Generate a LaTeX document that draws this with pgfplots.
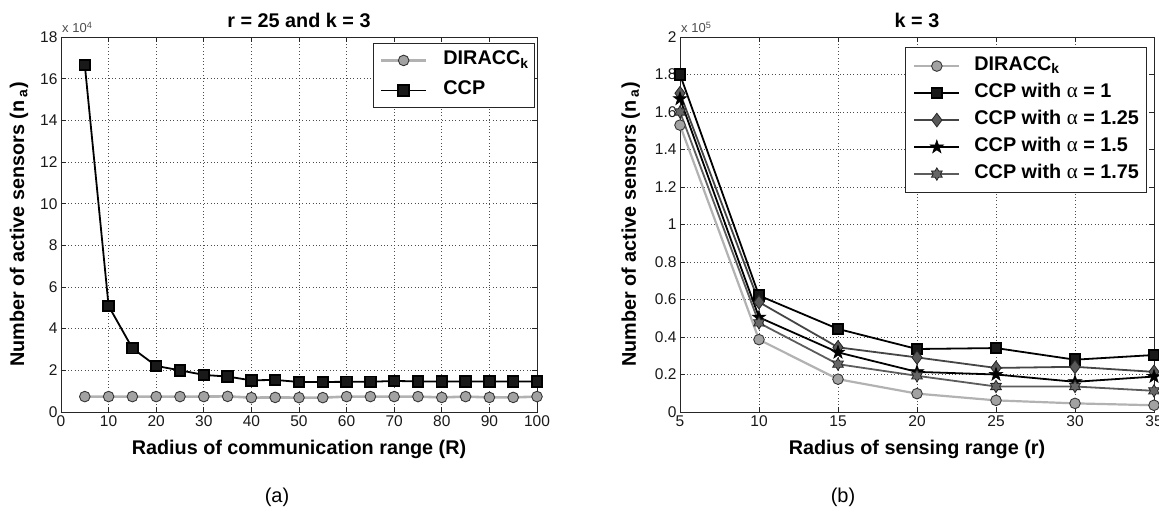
\documentclass[border=0pt]{standalone}
\usepackage{fontspec}
\setmainfont{Liberation Sans}
\newfontfamily\symf{Liberation Serif}
\usepackage{pgfplots}
\pgfplotsset{compat=1.18}
\usetikzlibrary{plotmarks}

\pgfdeclareplotmark{fstar}{%
  \pgfpathmoveto{\pgfpointpolar{90}{\pgfplotmarksize}}%
  \pgfpathlineto{\pgfpointpolar{126}{0.39*\pgfplotmarksize}}%
  \pgfpathlineto{\pgfpointpolar{162}{\pgfplotmarksize}}%
  \pgfpathlineto{\pgfpointpolar{198}{0.39*\pgfplotmarksize}}%
  \pgfpathlineto{\pgfpointpolar{234}{\pgfplotmarksize}}%
  \pgfpathlineto{\pgfpointpolar{270}{0.39*\pgfplotmarksize}}%
  \pgfpathlineto{\pgfpointpolar{306}{\pgfplotmarksize}}%
  \pgfpathlineto{\pgfpointpolar{342}{0.39*\pgfplotmarksize}}%
  \pgfpathlineto{\pgfpointpolar{18}{\pgfplotmarksize}}%
  \pgfpathlineto{\pgfpointpolar{54}{0.39*\pgfplotmarksize}}%
  \pgfpathclose
  \pgfusepathqfillstroke}
\pgfdeclareplotmark{hexa}{%
  \pgfpathmoveto{\pgfpointpolar{90}{\pgfplotmarksize}}%
  \pgfpathlineto{\pgfpointpolar{120}{0.58*\pgfplotmarksize}}%
  \pgfpathlineto{\pgfpointpolar{150}{\pgfplotmarksize}}%
  \pgfpathlineto{\pgfpointpolar{180}{0.58*\pgfplotmarksize}}%
  \pgfpathlineto{\pgfpointpolar{210}{\pgfplotmarksize}}%
  \pgfpathlineto{\pgfpointpolar{240}{0.58*\pgfplotmarksize}}%
  \pgfpathlineto{\pgfpointpolar{270}{\pgfplotmarksize}}%
  \pgfpathlineto{\pgfpointpolar{300}{0.58*\pgfplotmarksize}}%
  \pgfpathlineto{\pgfpointpolar{330}{\pgfplotmarksize}}%
  \pgfpathlineto{\pgfpointpolar{0}{0.58*\pgfplotmarksize}}%
  \pgfpathlineto{\pgfpointpolar{30}{\pgfplotmarksize}}%
  \pgfpathlineto{\pgfpointpolar{60}{0.58*\pgfplotmarksize}}%
  \pgfpathclose
  \pgfusepathqfillstroke}

\definecolor{dirline}{HTML}{B2B2B2}
\definecolor{dirfill}{HTML}{A2A2A2}
\definecolor{diredge}{HTML}{353535}
\definecolor{g125}{HTML}{454545}
\definecolor{g175}{HTML}{5C5C5C}

\newcommand\lbl{\fontsize{19.8}{22}\selectfont\bfseries}
\newcommand\alf{{\symf\mdseries\fontsize{21}{22}\selectfont α}}

\pgfplotsset{
  myaxis/.style={
    scale only axis, height=375pt,
    clip=false,
    axis line style={line width=0.9pt, black!85},
    tick align=inside, major tick length=5pt,
    tick style={line width=0.8pt, black!85},
    grid=major,
    grid style={line width=0.7pt, black!70, dash pattern=on 0.8pt off 2.6pt},
    tick label style={font=\fontsize{15.5}{16}\selectfont, black!90},
    /pgf/number format/assume math mode=true,
    title style={font=\lbl, at={(0.5,1)}, anchor=base, yshift=3pt, inner sep=0pt},
    label style={font=\lbl},
    legend cell align=left,
    legend image code/.code={\draw[mark repeat=2,mark phase=2,##1] plot coordinates {(0pt,0pt) (22.5pt,0pt) (45pt,0pt)};},
  }
}

\begin{document}
\begin{tikzpicture}
\useasboundingbox (0,0) rectangle (1159pt,520pt);

% ---------------- (a) ----------------
\begin{axis}[myaxis,
  at={(61pt,108pt)}, anchor=south west, width=476pt,
  xmin=0, xmax=100, ymin=0, ymax=18,
  xtick={0,10,...,100}, ytick={0,2,...,18},
  title={r = 25 and k = 3},
  xlabel={Radius of communication range (R)},
  ylabel={Number of active sensors (n\,\textsubscript{a})},
  xlabel style={at={(rel axis cs:0.5,-0.099)}, anchor=center},
  ylabel style={at={(rel axis cs:-0.088,0.5)}, anchor=center},
  legend style={at={(0.996,0.984)}, anchor=north east, font=\lbl,
    draw=black!85, line width=0.9pt, inner xsep=6pt, inner ysep=7.5pt,
    nodes={inner sep=0pt, text height=14pt, text depth=5pt},
    row sep=11pt, column sep=16pt},
]
\addplot[color=dirline, line width=2.6pt, mark=*, mark size=5.3pt,
  mark options={fill=dirfill, draw=diredge, line width=0.9pt}]
  coordinates {(5,0.74) (10,0.74) (15,0.74) (20,0.74) (25,0.74) (30,0.74)
  (35,0.75) (40,0.69) (45,0.70) (50,0.69) (55,0.69) (60,0.74) (65,0.74)
  (70,0.74) (75,0.74) (80,0.70) (85,0.74) (90,0.70) (95,0.70) (100,0.74)};
\addlegendentry{DIRACC\textsubscript{k}}
\addplot[color=black, line width=1.8pt, mark=square*, mark size=5.3pt,
  mark options={fill=black!90, draw=black}]
  coordinates {(5,16.66) (10,5.09) (15,3.06) (20,2.21) (25,2.0) (30,1.78)
  (35,1.70) (40,1.52) (45,1.54) (50,1.44) (55,1.44) (60,1.45) (65,1.45)
  (70,1.49) (75,1.47) (80,1.46) (85,1.46) (90,1.47) (95,1.46) (100,1.47)};
\addlegendentry{CCP}
\node[anchor=south west, inner sep=0pt, font=\fontsize{13}{13}\selectfont, black!70]
  at (rel axis cs:0,1) [xshift=1pt, yshift=4pt] {x 10\textsuperscript{4}};
\end{axis}

% ---------------- (b) ----------------
\begin{axis}[myaxis,
  at={(680pt,108pt)}, anchor=south west, width=474pt,
  xmin=5, xmax=35, ymin=0, ymax=2,
  xtick={5,10,...,35}, ytick={0,0.2,0.4,0.6,0.8,1,1.2,1.4,1.6,1.8,2},
  title={k = 3},
  xlabel={Radius of sensing range (r)},
  ylabel={Number of active sensors (n\,\textsubscript{a})},
  xlabel style={at={(rel axis cs:0.5,-0.099)}, anchor=center},
  ylabel style={at={(rel axis cs:-0.104,0.5)}, anchor=center},
  legend style={at={(0.985,0.973)}, anchor=north east, font=\lbl,
    draw=black!85, line width=0.9pt, inner xsep=7.5pt, inner ysep=9pt,
    nodes={inner sep=0pt, text height=14pt, text depth=5pt},
    row sep=8pt, column sep=14pt},
]
\addplot[color=dirline, line width=2.2pt, mark=*, mark size=5.3pt,
  mark options={fill=dirfill, draw=diredge, line width=0.9pt}]
  coordinates {(5,1.53) (10,0.386) (15,0.175) (20,0.098) (25,0.062) (30,0.046) (35,0.036)};
\addlegendentry{DIRACC\textsubscript{k}}
\addplot[color=black, line width=1.8pt, mark=square*, mark size=5.3pt,
  mark options={fill=black!90, draw=black}]
  coordinates {(5,1.80) (10,0.621) (15,0.443) (20,0.336) (25,0.341) (30,0.279) (35,0.304)};
\addlegendentry{CCP with \alf{} = 1}
\addplot[color=g125, line width=1.8pt, mark=diamond*, mark size=6.8pt,
  mark options={fill=black!65, draw=black!85, line width=0.8pt}]
  coordinates {(5,1.70) (10,0.586) (15,0.345) (20,0.291) (25,0.235) (30,0.241) (35,0.214)};
\addlegendentry{CCP with \alf{} = 1.25}
\addplot[color=black, line width=1.8pt, mark=fstar, mark size=7pt,
  mark options={fill=black, draw=black, line width=0.6pt}]
  coordinates {(5,1.67) (10,0.505) (15,0.318) (20,0.214) (25,0.200) (30,0.161) (35,0.189)};
\addlegendentry{CCP with \alf{} = 1.5}
\addplot[color=g175, line width=1.8pt, mark=hexa, mark size=6.2pt,
  mark options={fill=black!60, draw=black!85, line width=0.8pt}]
  coordinates {(5,1.60) (10,0.475) (15,0.255) (20,0.193) (25,0.136) (30,0.136) (35,0.113)};
\addlegendentry{CCP with \alf{} = 1.75}
\node[anchor=south west, inner sep=0pt, font=\fontsize{13}{13}\selectfont, black!70]
  at (rel axis cs:0,1) [xshift=1pt, yshift=4pt] {x 10\textsuperscript{5}};
\end{axis}

\node[font=\fontsize{20}{22}\selectfont] at (277pt,23pt) {(a)};
\node[font=\fontsize{20}{22}\selectfont] at (843pt,23pt) {(b)};
\end{tikzpicture}
\end{document}
